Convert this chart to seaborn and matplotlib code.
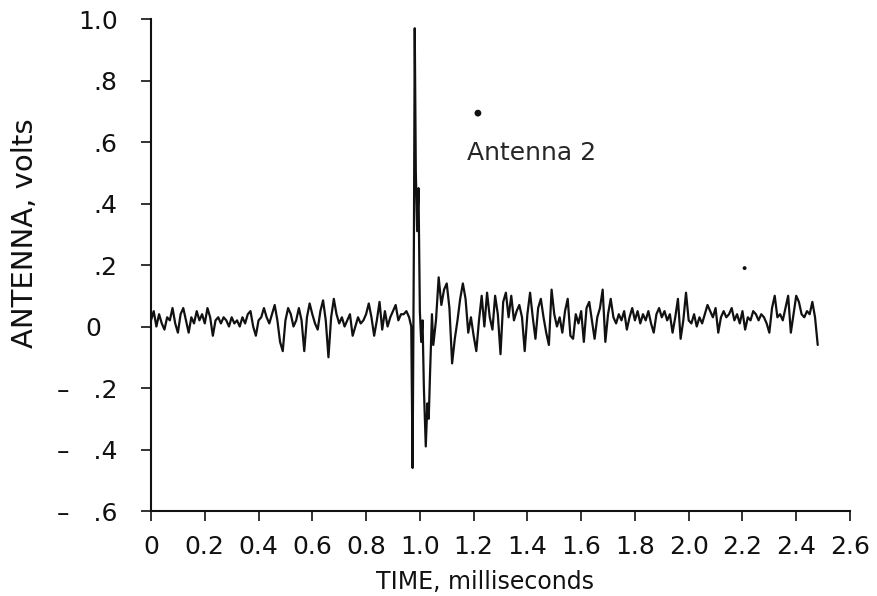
import numpy as np
import pandas as pd
import seaborn as sns
import matplotlib
matplotlib.use("Agg")
import matplotlib.pyplot as plt

# antenna trace before the discharge, one sample every 0.01 ms from 0.00 ms
pre_volts = [
    0.02, 0.05, 0.00, 0.04, 0.01, -0.01, 0.03, 0.02, 0.06, 0.01,
    -0.02, 0.04, 0.06, 0.02, -0.02, 0.03, 0.01, 0.05, 0.02, 0.04,
    0.01, 0.06, 0.03, -0.03, 0.02, 0.03, 0.01, 0.03, 0.02, 0.00,
    0.03, 0.01, 0.02, 0.00, 0.03, 0.01, 0.04, 0.05, 0.00, -0.03,
    0.02, 0.03, 0.06, 0.03, 0.01, 0.04, 0.07, 0.02, -0.05, -0.08,
    0.02, 0.06, 0.04, 0.00, 0.02, 0.06, 0.02, -0.08, 0.03, 0.075,
    0.04, 0.01, -0.01, 0.05, 0.085, 0.02, -0.10, 0.03, 0.09, 0.04,
    0.01, 0.03, 0.00, 0.02, 0.04, -0.03, 0.00, 0.03, 0.01, 0.02,
    0.04, 0.075, 0.03, -0.03, 0.02, 0.08, -0.01, 0.05, 0.00, 0.03,
    0.05, 0.07, 0.02, 0.04, 0.04, 0.05,
]

# the discharge itself
spike_ms = [0.960, 0.968, 0.973, 0.978, 0.981, 0.985, 0.990, 0.995, 1.000,
            1.005, 1.010, 1.015, 1.022, 1.028, 1.033, 1.038, 1.045, 1.050]
spike_volts = [0.03, 0.00, -0.46, 0.30, 0.97, 0.50, 0.31, 0.45, 0.05,
               -0.05, 0.02, -0.20, -0.39, -0.25, -0.30, -0.15, 0.04, -0.06]

# trace after the discharge, one sample every 0.01 ms from 1.06 ms
post_volts = [
    0.02, 0.16, 0.07, 0.12, 0.14, 0.06, -0.12, -0.04, 0.02, 0.09,
    0.14, 0.09, -0.02, 0.03, -0.03, -0.08, 0.02, 0.10, 0.00, 0.11,
    0.03, -0.01, 0.10, 0.04, -0.09, 0.08, 0.11, 0.03, 0.10, 0.02,
    0.05, 0.07, 0.03, -0.08, 0.04, 0.11, 0.03, -0.04, 0.06, 0.09,
    0.03, -0.02, -0.06, 0.12, 0.04, 0.00, 0.03, -0.02, 0.05, 0.09,
    -0.03, -0.04, 0.04, 0.01, 0.05, -0.05, 0.06, 0.08, 0.02, -0.04,
    0.03, 0.06, 0.12, -0.05, 0.04, 0.09, 0.03, 0.01, 0.04, 0.02,
    0.05, -0.01, 0.03, 0.06, 0.02, 0.05, 0.01, 0.04, 0.02, 0.05,
    0.01, -0.02, 0.04, 0.06, 0.03, 0.05, 0.02, 0.04, -0.02, 0.03,
    0.09, -0.04, 0.02, 0.11, 0.02, 0.01, 0.04, 0.00, 0.03, 0.01,
    0.04, 0.07, 0.05, 0.03, 0.06, -0.02, 0.03, 0.05, 0.03, 0.04,
    0.06, 0.02, 0.04, 0.01, 0.05, -0.01, 0.03, 0.02, 0.05, 0.04,
    0.02, 0.04, 0.03, 0.01, -0.02, 0.06, 0.10, 0.03, 0.04, 0.02,
    0.06, 0.10, -0.02, 0.04, 0.10, 0.08, 0.04, 0.03, 0.05, 0.04,
    0.08, 0.03, -0.06,
]

SAMPLE_MS = 0.01
PRE_START = 0.0
POST_START = 1.06

# stray specks on the original sheet
speck_ms = [1.216, 2.208]
speck_volts = [0.694, 0.19]
speck_size = [24, 8]

x_ticks = [0, 0.2, 0.4, 0.6, 0.8, 1.0, 1.2, 1.4, 1.6, 1.8, 2.0, 2.2, 2.4, 2.6]
x_labels = ["0", "0.2", "0.4", "0.6", "0.8", "1.0", "1.2", "1.4", "1.6",
            "1.8", "2.0", "2.2", "2.4", "2.6"]
y_ticks = [1.0, 0.8, 0.6, 0.4, 0.2, 0, -0.2, -0.4, -0.6]
y_labels = ["1.0", ".8", ".6", ".4", ".2", "0  ", "\u2013   .2", "\u2013   .4", "\u2013   .6"]

pre_ms = PRE_START + SAMPLE_MS * np.arange(len(pre_volts))
post_ms = POST_START + SAMPLE_MS * np.arange(len(post_volts))
trace = pd.DataFrame({
    "time_ms": np.concatenate([pre_ms, spike_ms, post_ms]),
    "volts": np.concatenate([pre_volts, spike_volts, post_volts]),
})

sns.set_style("ticks")
plt.rcParams["font.family"] = ["DejaVu Sans"]

fig = plt.figure(figsize=(8.77, 5.96), dpi=100)
ax = fig.add_axes([0.1722, 0.1426, 0.797, 0.8255])

sns.lineplot(data=trace, x="time_ms", y="volts", estimator=None, sort=False,
             color="#111111", lw=1.6, ax=ax)
sns.scatterplot(x=speck_ms, y=speck_volts, s=speck_size, color="#111111",
                edgecolor="none", ax=ax, legend=False)

ax.text(1.175, 0.54, "Antenna 2", fontsize=18, ha="left", va="baseline")

ax.set_xlim(0, 2.6)
ax.set_ylim(-0.6, 1.0)
ax.set_xticks(x_ticks)
ax.set_xticklabels(x_labels)
ax.set_yticks(y_ticks)
ax.set_yticklabels(y_labels)
ax.tick_params(axis="both", direction="out", length=7, width=1.2,
               labelsize=18, color="#111111", labelcolor="#111111")
ax.tick_params(axis="y", pad=17)
ax.tick_params(axis="x", pad=10)

sns.despine(ax=ax)
for side in ["left", "bottom"]:
    ax.spines[side].set_linewidth(1.5)
    ax.spines[side].set_color("#111111")

ax.set_xlabel("TIME, milliseconds", fontsize=17, color="#111111")
ax.set_ylabel("ANTENNA, volts", fontsize=21, color="#111111")
ax.xaxis.set_label_coords(0.478, -0.12)
ax.yaxis.set_label_coords(-0.16, 0.565)

fig.savefig("out.png", dpi=100)
